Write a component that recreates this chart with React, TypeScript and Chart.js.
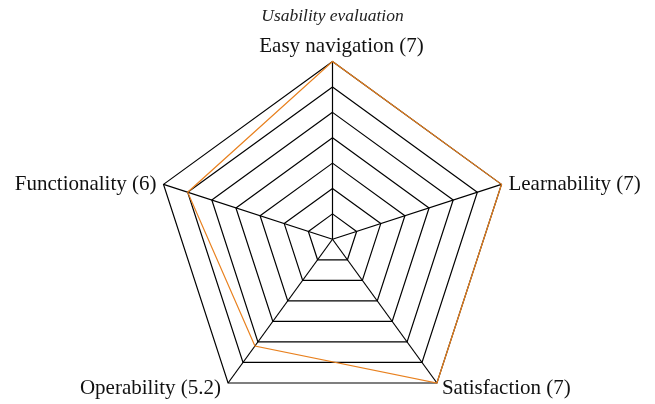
import React, { useEffect, useRef } from "react";
import { Chart, registerables } from "chart.js";

Chart.register(...registerables);

const categories = [
  "Easy navigation (7)",
  "Learnability (7)",
  "Satisfaction (7)",
  "Operability (5.2)",
  "Functionality (6)",
];
const usabilityValues = [7, 7, 7, 5.2, 6];
const chartTitle = "Usability evaluation";
const scaleMax = 7;

const labelFont = "21px 'Liberation Serif', 'Times New Roman', serif";

const pointLabelPlugin = {
  id: "customPointLabels",
  afterDraw(chart: any) {
    const scale = chart.scales.r;
    const ctx = chart.ctx;
    const aligns = ["center", "left", "left", "right", "right"];
    const dx = [9, 7, 5, -7, -7];
    const dy = [-15, 0, 5, 5, 0];
    ctx.save();
    ctx.font = labelFont;
    ctx.fillStyle = "#111";
    ctx.textBaseline = "middle";
    categories.forEach((lab, i) => {
      const p = scale.getPointPositionForValue(i, scaleMax);
      ctx.textAlign = aligns[i];
      ctx.fillText(lab, p.x + dx[i], p.y + dy[i]);
    });
    ctx.restore();
  },
};

export default function App() {
  const ref = useRef<HTMLCanvasElement | null>(null);
  useEffect(() => {
    document.body.style.margin = "0";
    const ctx = ref.current!;
    const chart = new Chart(ctx, {
      type: "radar",
      data: {
        labels: categories,
        datasets: [
          {
            label: chartTitle,
            data: usabilityValues,
            borderColor: "#E8801E",
            borderWidth: 1.2,
            backgroundColor: "rgba(0,0,0,0)",
            fill: false,
            pointRadius: 0,
            pointHoverRadius: 0,
            tension: 0,
          },
        ],
      },
      plugins: [pointLabelPlugin],
      options: {
        animation: false,
        responsive: false,
        maintainAspectRatio: false,
        layout: { padding: { top: 0, bottom: 21, left: 10, right: 0 } },
        plugins: {
          legend: { display: false },
          tooltip: { enabled: false },
          title: {
            display: true,
            text: chartTitle,
            color: "#222",
            font: { family: "Liberation Serif", style: "italic", size: 17.5, weight: "normal" },
            padding: { top: 6, bottom: 34.6 },
          },
        },
        scales: {
          r: {
            min: 0,
            max: scaleMax,
            ticks: { stepSize: 1, display: false },
            grid: { color: "#000", lineWidth: 1.2 },
            angleLines: { color: "#000", lineWidth: 1.2 },
            pointLabels: { display: false },
            afterFit: (scale: any) => {
              const h = scale.bottom - scale.top;
              const r = h / (1 + Math.cos(Math.PI / 5));
              scale.drawingArea = r;
              scale.yCenter = scale.top + r;
              scale.xCenter = (scale.left + scale.right) / 2;
            },
          },
        },
      },
    });
    return () => chart.destroy();
  }, []);
  return (
    <div style={{ position: "absolute", left: 0, top: 0, width: 655, height: 404 }}>
      <canvas ref={ref} width={655} height={404} style={{ width: 655, height: 404 }} />
    </div>
  );
}
